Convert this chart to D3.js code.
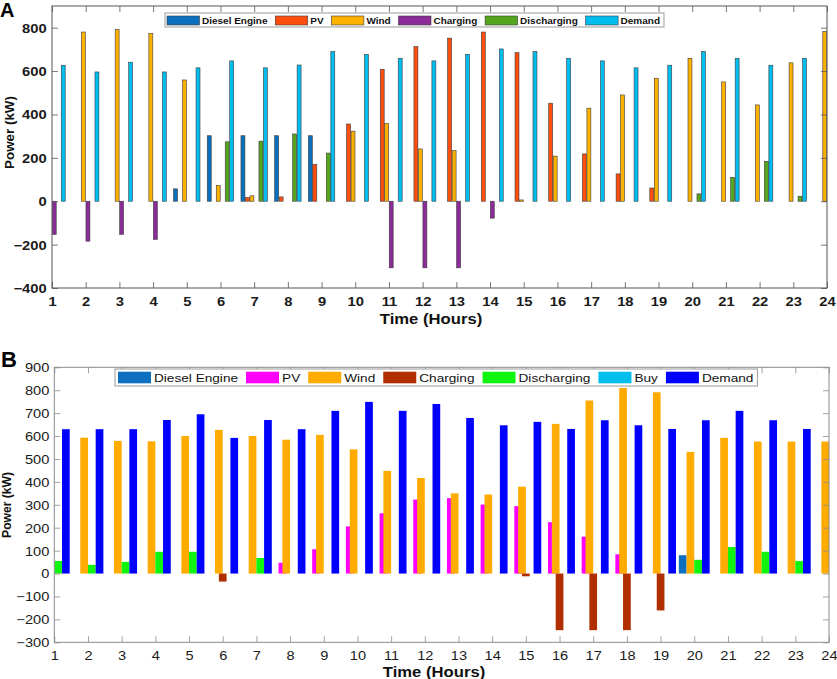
<!DOCTYPE html>
<html><head><meta charset="utf-8">
<script src="https://cdn.jsdelivr.net/npm/d3@7"></script>
<style>html,body{margin:0;padding:0;background:#fff;}svg{display:block;}</style>
</head><body>
<svg id="c" width="837" height="679"></svg>
<script>
// ---------- DATA ----------
const hours = [1,2,3,4,5,6,7,8,9,10,11,12,13,14,15,16,17,18,19,20,21,22,23,24];

// Panel A
const seriesNamesA = ["Diesel Engine","PV","Wind","Charging","Discharging","Demand"];
const dieselA      = [0,0,0,0,57,302,302,302,302,0,0,0,0,0,0,0,0,0,0,0,0,0,0,0];
const pvA          = [0,0,0,0,0,0,17,20,170,356,608,713,752,780,685,452,218,126,61,0,0,0,0,0];
const windA        = [0,780,792,774,559,72,25,0,0,323,359,241,233,0,6,208,429,490,567,659,550,444,638,783];
const chargingA    = [-153,-184,-153,-176,0,0,0,0,0,0,-307,-307,-307,-78,0,0,0,0,0,0,0,0,0,0];
const dischargingA = [0,0,0,0,0,274,277,310,222,0,0,0,0,0,0,0,0,0,0,34,110,184,23,0];
const demandA      = [627,596,641,596,615,647,615,628,690,677,659,647,677,702,690,659,647,615,627,690,659,627,659,0];
const yTicksA = [-400,-200,0,200,400,600,800];

// Panel B
const seriesNamesB = ["Diesel Engine","PV","Wind","Charging","Discharging","Buy","Demand"];
const dieselB      = [0,0,0,0,0,0,0,0,0,0,0,0,0,0,0,0,0,0,0,80,0,0,0,0];
const pvB          = [0,0,0,0,0,0,0,47,106,206,263,323,329,301,294,224,161,84,0,0,0,0,0,0];
const windB        = [0,593,579,577,600,627,600,584,605,542,448,417,350,345,379,653,755,810,791,531,592,576,576,576];
const chargingB    = [0,0,0,0,0,-35,0,0,0,0,0,0,0,0,-12,-247,-247,-247,-161,0,0,0,0,0];
const dischargingB = [55,38,51,95,95,0,68,0,0,0,0,0,0,0,0,0,0,0,0,60,116,95,55,0];
const buyB         = [0,0,0,0,0,0,0,0,0,0,0,0,0,0,0,0,0,0,0,0,0,0,0,0];
const demandB      = [630,630,630,670,695,592,670,630,710,749,710,740,679,647,662,631,669,647,631,669,710,669,631,0];
const yTicksB = [-300,-200,-100,0,100,200,300,400,500,600,700,800,900];

// ---------- STYLE ----------
const colorsA = ["#0a6fbd","#ff4d0d","#ffb100","#8a2b98","#55a51f","#00bdf0"];
const colorsB = ["#0d6fbf","#ff00ff","#ffab00","#b02e00","#10f510","#00bfee","#0000ff"];
const SX = 1.19; // horizontal stretch of text

const svg = d3.select("#c");

function stretchText(sel, tx, ty){
  sel.attr("x", null).attr("y", null).attr("dy", null)
     .attr("transform", `translate(${tx},${ty}) scale(${SX},1)`);
}

function panel(cfg){
  const {L,R,T,B,yDomain,yTicks,series,names,colors,barFactor,edge,font,weight,tickFs,axisColor,id} = cfg;
  const x = d3.scaleLinear().domain([1,24]).range([L,R]);
  const y = d3.scaleLinear().domain(yDomain).range([B,T]);
  const g = svg.append("g");
  const n = series.length;
  const unit = x(2)-x(1);
  const slot = 0.8/n*unit;
  const bw = slot*barFactor;

  g.append("clipPath").attr("id","clip"+id).append("rect")
    .attr("x",L).attr("y",T).attr("width",R-L).attr("height",B-T);
  const bars = g.append("g").attr("clip-path",`url(#clip${id})`);
  series.forEach((vals,i)=>{
    const off = (i-(n-1)/2)*slot;
    bars.append("g").selectAll("rect").data(vals.map((v,j)=>({h:hours[j],v})))
      .join("rect")
      .filter(d => edge || d.v !== 0)
      .attr("x", d => x(d.h)+off-bw/2)
      .attr("width", bw)
      .attr("y", d => Math.min(y(d.v), y(0)))
      .attr("height", d => Math.abs(y(d.v)-y(0)))
      .attr("fill", colors[i])
      .attr("stroke", edge ? "#3c3c3c" : "none")
      .attr("stroke-width", edge ? 0.6 : 0);
  });

  // axes
  const ax = d3.axisBottom(x).tickValues(hours).tickSizeInner(-6).tickSizeOuter(0);
  const gx = g.append("g").attr("transform",`translate(0,${B})`).call(ax);
  g.append("g").attr("transform",`translate(0,${T})`)
    .call(d3.axisTop(x).tickValues(hours).tickSizeInner(-6).tickSizeOuter(0).tickFormat(""));
  const gy = g.append("g").attr("transform",`translate(${L},0)`)
    .call(d3.axisLeft(y).tickValues(yTicks).tickSizeInner(-6).tickSizeOuter(0));
  g.append("g").attr("transform",`translate(${R},0)`)
    .call(d3.axisRight(y).tickValues(yTicks).tickSizeInner(-6).tickSizeOuter(0).tickFormat(""));
  g.selectAll(".domain").remove();
  g.selectAll(".tick line").attr("stroke",axisColor).attr("stroke-width",0.8);
  g.selectAll(".tick text").attr("fill","#1a1a1a").attr("font-family",font)
    .attr("font-weight",weight).attr("font-size",tickFs);
  gx.selectAll(".tick text").attr("text-anchor","middle").each(function(){ stretchText(d3.select(this),0,cfg.xLabOff); });
  gy.selectAll(".tick text").attr("text-anchor","end").each(function(){ stretchText(d3.select(this),-cfg.yLabPad,tickFs*0.36); });

  g.append("rect").attr("x",L).attr("y",T).attr("width",R-L).attr("height",B-T)
    .attr("fill","none").attr("stroke",axisColor).attr("stroke-width",1);

  // axis titles
  g.append("text").text("Time (Hours)").attr("text-anchor","middle")
    .attr("font-family","Liberation Sans, Arial, sans-serif").attr("font-weight","bold")
    .attr("font-size",14).attr("fill","#111")
    .attr("transform",`translate(${cfg.xTitle[0]},${cfg.xTitle[1]}) scale(${SX},1)`);
  g.append("text").text("Power (kW)").attr("text-anchor","middle")
    .attr("font-family","Liberation Sans, Arial, sans-serif").attr("font-weight","bold")
    .attr("font-size",cfg.yTitleFs).attr("fill","#111")
    .attr("transform",`translate(${cfg.yTitle[0]},${cfg.yTitle[1]}) rotate(-90)`);
  g.append("text").text(cfg.letter)
    .attr("font-family","Liberation Sans, Arial, sans-serif").attr("font-weight","bold")
    .attr("font-size",cfg.letterFs).attr("fill","#000")
    .attr("x",cfg.letterPos[0]).attr("y",cfg.letterPos[1]);

  // legend
  const lg = g.append("g");
  const box = lg.append("rect").attr("fill","#fff").attr("stroke","#9a9a9a").attr("stroke-width",1);
  const lx0 = cfg.legend.x, ly0 = cfg.legend.y, lh = cfg.legend.h;
  let cx = lx0 + cfg.legend.padL;
  names.forEach((nm,i)=>{
    lg.append("rect").attr("x",cx).attr("y",ly0+cfg.legend.swY).attr("width",cfg.legend.swW)
      .attr("height",cfg.legend.swH).attr("fill",colors[i])
      .attr("stroke", edge ? "#3c3c3c":"none").attr("stroke-width",0.6);
    cx += cfg.legend.swW + cfg.legend.gapT;
    const t = lg.append("text").text(nm).attr("font-family",font).attr("font-weight",weight)
      .attr("font-size",cfg.legend.fs).attr("fill","#111")
      .attr("transform",`translate(${cx},${ly0+cfg.legend.base}) scale(${SX},1)`);
    cx += t.node().getComputedTextLength()*SX;
    if(i<names.length-1) cx += cfg.legend.gapI;
  });
  box.attr("x",lx0).attr("y",ly0).attr("width",cx+cfg.legend.padR-lx0).attr("height",lh);
}

panel({
  id:"A", L:52, R:827, T:6, B:288, yDomain:[-400,900], yTicks:yTicksA,
  series:[dieselA,pvA,windA,chargingA,dischargingA,demandA], names:seriesNamesA, colors:colorsA,
  barFactor:0.88, edge:true, font:"Liberation Sans, Arial, sans-serif", weight:"bold", tickFs:12.4,
  axisColor:"#555", xLabOff:18, yLabPad:5.3,
  xTitle:[431,323.5], yTitle:[13.5,132.5], yTitleFs:13.4, letter:"A", letterFs:20, letterPos:[0,16.5],
  legend:{x:165,y:13,h:14,padL:2,padR:4,swY:3,swW:32.5,swH:9,gapT:2.5,gapI:7.8,fs:8.4,base:10.6}
});
panel({
  id:"B", L:54.3, R:829, T:367.3, B:642.3, yDomain:[-300,900], yTicks:yTicksB,
  series:[dieselB,pvB,windB,chargingB,dischargingB,buyB,demandB], names:seriesNamesB, colors:colorsB,
  barFactor:2.0, edge:false, font:"Liberation Sans, Arial, sans-serif", weight:"normal", tickFs:12.3,
  axisColor:"#8a8a8a", xLabOff:17.7, yLabPad:5,
  xTitle:[434,676.5], yTitle:[10.5,505], yTitleFs:12.1, letter:"B", letterFs:22, letterPos:[1,367],
  legend:{x:115,y:369,h:17,padL:3,padR:4,swY:2.7,swW:33,swH:11.6,gapT:3,gapI:8,fs:11.45,base:12.8}
});
</script>
</body></html>
